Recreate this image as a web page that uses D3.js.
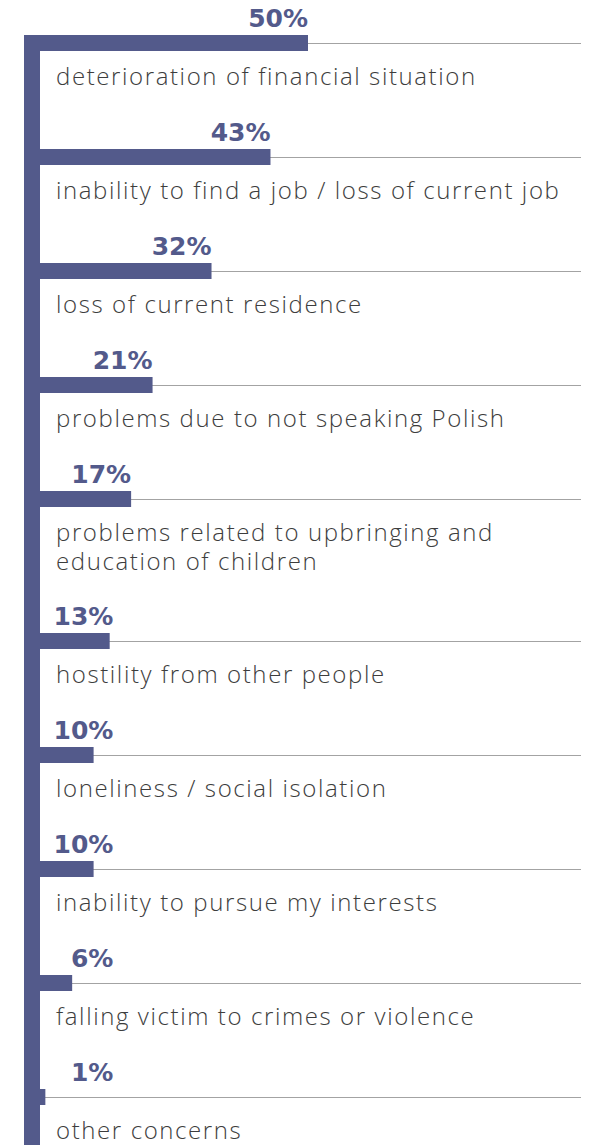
<!DOCTYPE html>
<html>
<head>
<meta charset="utf-8">
<script src="https://cdn.jsdelivr.net/npm/d3@7"></script>
<style>
    body { margin: 0; background: #fff; }
    svg { display: block; }
</style>
</head>
<body>
<svg width="590" height="1145"></svg>
<script>
// chart data
const categories = [
    ["deterioration of financial situation"],
    ["inability to find a job / loss of current job"],
    ["loss of current residence"],
    ["problems due to not speaking Polish"],
    ["problems related to upbringing and", "education of children"],
    ["hostility from other people"],
    ["loneliness / social isolation"],
    ["inability to pursue my interests"],
    ["falling victim to crimes or violence"],
    ["other concerns"]
];
const values = [50, 43, 32, 21, 17, 13, 10, 10, 6, 1];

const barColor = "#535a8b";
const textColor = "#3d3d3d";
const gridColor = "#a3a3a3";

const svg = d3.select("svg");

const x0 = 40;
const x = d3.scaleLinear().domain([0, 50]).range([x0, 308]);

// row positions: each row is 114px, extra 28px per additional label line
const rowTop = [];
let yy = 43;
categories.forEach((lines) => {
    rowTop.push(yy);
    yy += 114 + (lines.length - 1) * 28;
});

const barH = 16;

// grid lines
svg.selectAll(".grid")
    .data(values)
    .enter()
    .append("line")
    .attr("class", "grid")
    .attr("x1", x0)
    .attr("x2", 581)
    .attr("y1", (d, i) => rowTop[i] + 0.5)
    .attr("y2", (d, i) => rowTop[i] + 0.5)
    .attr("stroke", gridColor)
    .attr("stroke-width", 1);

// bars
svg.selectAll(".bar")
    .data(values)
    .enter()
    .append("rect")
    .attr("class", "bar")
    .attr("x", x0)
    .attr("y", (d, i) => rowTop[i] - barH / 2)
    .attr("width", d => x(d) - x0)
    .attr("height", barH)
    .attr("fill", barColor);

// vertical spine
svg.append("rect")
    .attr("x", 24)
    .attr("y", rowTop[0] - barH / 2)
    .attr("width", 16)
    .attr("height", 1145)
    .attr("fill", barColor);

// value labels
svg.selectAll(".val")
    .data(values)
    .enter()
    .append("text")
    .attr("class", "val")
    .attr("x", d => Math.max(x(d), x(13.7)))
    .attr("y", (d, i) => rowTop[i] - barH / 2 - 8)
    .attr("text-anchor", "end")
    .attr("font-family", "'DejaVu Sans', sans-serif")
    .attr("font-weight", 700)
    .attr("font-size", 25)
    .attr("fill", barColor)
    .text(d => d + "%");

// category labels
const lab = svg.selectAll(".lab")
    .data(categories)
    .enter()
    .append("text")
    .attr("class", "lab")
    .attr("x", 56)
    .attr("y", (d, i) => rowTop[i] + 42)
    .attr("font-family", "'Open Sans', sans-serif")
    .attr("font-weight", 300)
    .attr("font-size", 24)
    .attr("letter-spacing", 1.6)
    .attr("fill", textColor);

lab.selectAll("tspan")
    .data(d => d)
    .enter()
    .append("tspan")
    .attr("x", 56)
    .attr("dy", (d, i) => i === 0 ? 0 : 29)
    .text(d => d);
</script>
</body>
</html>
